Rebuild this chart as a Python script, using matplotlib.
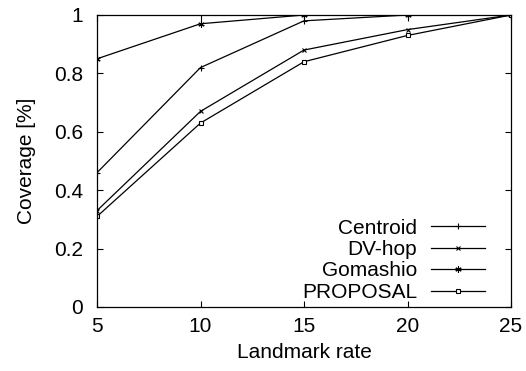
import matplotlib
matplotlib.use("Agg")
import matplotlib.pyplot as plt

plt.rcParams["font.family"] = ["Liberation Sans", "DejaVu Sans"]
plt.rcParams["font.size"] = 15

# =====================================================
# Data
# =====================================================
landmark_rate = [5, 10, 15, 20, 25]
centroid = [0.46, 0.82, 0.98, 1.0, 1.0]
dv_hop = [0.33, 0.67, 0.88, 0.95, 1.0]
gomashio = [0.85, 0.97, 1.0, 1.0, 1.0]
proposal = [0.31, 0.63, 0.84, 0.93, 1.0]

series_names = ["Centroid", "DV-hop", "Gomashio", "PROPOSAL"]
x_ticks = [5, 10, 15, 20, 25]
y_ticks = [0, 0.2, 0.4, 0.6, 0.8, 1]
y_tick_labels = ["0", "0.2", "0.4", "0.6", "0.8", "1"]

fig = plt.figure(figsize=(5.26, 3.71), dpi=100)
ax = fig.add_axes([97 / 526, 1 - 307 / 371, (511 - 97) / 526, (307 - 15) / 371])

asterisk = (6, 2, 0)
styles = [
    dict(marker="+", markersize=4.5, mew=0.8),
    dict(marker="x", markersize=3.5, mew=0.8),
    dict(marker=asterisk, markersize=4.5, mew=0.8),
    dict(marker="s", markersize=3.5, mew=0.8, mfc="white"),
]
for vals, name, st in zip([centroid, dv_hop, gomashio, proposal], series_names, styles):
    ax.plot(landmark_rate, vals, color="black", lw=0.9, label=name, **st)

ax.set_xlim(5, 25)
ax.set_ylim(0, 1)
ax.set_xticks(x_ticks)
ax.set_yticks(y_ticks)
ax.set_yticklabels(y_tick_labels)
ax.tick_params(direction="in", top=True, right=True, length=4, width=0.8)
ax.tick_params(axis="x", pad=7)
ax.tick_params(axis="y", pad=10)
for s in ax.spines.values():
    s.set_linewidth(0.9)

ax.set_xlabel("Landmark rate", labelpad=5)
ax.set_ylabel("Coverage [%]", labelpad=13)

ax.legend(loc="lower right", frameon=False, markerfirst=False, handlelength=2.6,
          labelspacing=0.12, handletextpad=0.65, borderaxespad=0.0,
          borderpad=0.0, bbox_to_anchor=(1 - 26 / 414, 5 / 292))

fig.savefig("out.png", dpi=100)
